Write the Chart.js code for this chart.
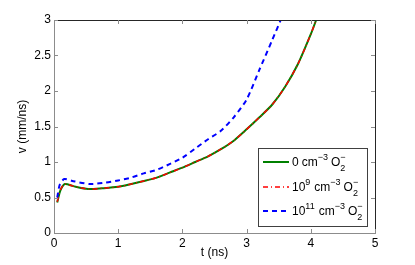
<!DOCTYPE html>
<html>
<head>
<meta charset="utf-8">
<script src="https://cdn.jsdelivr.net/npm/chart.js@4"></script>
<style>
  html, body { margin: 0; padding: 0; background: #fff; }
  #wrap { width: 415px; height: 265px; }
</style>
</head>
<body>
<div id="wrap"><canvas id="chart" width="415" height="265"></canvas></div>
<script>
// times (ns) and velocities (mm/ns)
const tZero = [0.05, 0.1, 0.17, 0.3, 0.53, 0.75, 1.0, 1.3, 1.6, 1.8, 2.0, 2.2, 2.4, 2.6, 2.8, 3.0, 3.2, 3.4, 3.6, 3.8, 4.0, 4.1];
const vZero = [0.43, 0.60, 0.69, 0.66, 0.62, 0.63, 0.65, 0.71, 0.78, 0.85, 0.92, 1.00, 1.08, 1.18, 1.30, 1.46, 1.63, 1.81, 2.06, 2.38, 2.80, 3.04];
const tNine = [0.05, 0.1, 0.17, 0.3, 0.53, 0.75, 1.0, 1.3, 1.6, 1.8, 2.0, 2.2, 2.4, 2.6, 2.8, 3.0, 3.2, 3.4, 3.6, 3.8, 4.0, 4.1];
const vNine = [0.44, 0.61, 0.69, 0.66, 0.62, 0.63, 0.65, 0.71, 0.78, 0.85, 0.92, 1.00, 1.08, 1.18, 1.30, 1.46, 1.63, 1.81, 2.06, 2.38, 2.80, 3.04];
const tEleven = [0.05, 0.09, 0.16, 0.3, 0.56, 0.8, 1.0, 1.2, 1.4, 1.6, 1.8, 2.0, 2.2, 2.4, 2.6, 2.8, 3.0, 3.2, 3.4, 3.55];
const vEleven = [0.50, 0.68, 0.76, 0.73, 0.69, 0.71, 0.74, 0.78, 0.84, 0.89, 0.97, 1.06, 1.19, 1.32, 1.44, 1.63, 1.88, 2.30, 2.72, 3.04];
const xTicks = [0, 1, 2, 3, 4, 5];
const yTicks = [0, 0.5, 1, 1.5, 2, 2.5, 3];
const legendLabels = [['0', 'cm', '−3', 'O', '2', '−'], ['10', '9', 'cm', '−3', 'O', '2', '−'], ['10', '11', 'cm', '−3', 'O', '2', '−']];

const FONT = 'Liberation Sans, Arial, Helvetica, sans-serif';

function pts(ts, vs) {
  return ts.map((t, i) => ({ x: t, y: vs[i] }));
}

// box around the plot with inward ticks, matlab style
const boxPlugin = {
  id: 'box',
  afterDatasetsDraw(chart) {
    const { ctx, chartArea: a, scales } = chart;
    ctx.save();
    ctx.lineWidth = 1;
    ctx.strokeStyle = '#262626';
    ctx.beginPath();
    ctx.moveTo(a.left, a.top + 0.5);
    ctx.lineTo(a.right + 0.5, a.top + 0.5);
    ctx.lineTo(a.right + 0.5, a.bottom);
    ctx.stroke();
    ctx.strokeStyle = '#8c8c8c';
    ctx.beginPath();
    xTicks.forEach(v => {
      const x = Math.round(scales.x.getPixelForValue(v)) + 0.5;
      ctx.moveTo(x, a.bottom); ctx.lineTo(x, a.bottom - 4);
      ctx.moveTo(x, a.top); ctx.lineTo(x, a.top + 4);
    });
    yTicks.forEach(v => {
      const y = Math.round(scales.y.getPixelForValue(v)) + 0.5;
      ctx.moveTo(a.left, y); ctx.lineTo(a.left + 4, y);
      ctx.moveTo(a.right, y); ctx.lineTo(a.right - 4, y);
    });
    ctx.stroke();
    ctx.restore();
  }
};

// legend with superscripts / subscripts
const legendPlugin = {
  id: 'mlegend',
  afterDraw(chart) {
    const { ctx } = chart;
    const bx = 258.5, by = 148.5, bw = 109, bh = 78;
    ctx.save();
    ctx.fillStyle = '#fff';
    ctx.fillRect(bx, by, bw, bh);
    ctx.strokeStyle = '#404040';
    ctx.lineWidth = 1;
    ctx.strokeRect(bx, by, bw, bh);
    const rows = [162, 187, 211];
    chart.data.datasets.forEach((ds, i) => {
      const y = rows[i];
      ctx.strokeStyle = ds.borderColor;
      ctx.lineWidth = ds.borderWidth;
      ctx.setLineDash(ds.borderDash || []);
      ctx.beginPath();
      ctx.moveTo(263, y);
      ctx.lineTo(289, y);
      ctx.stroke();
      ctx.setLineDash([]);
      ctx.fillStyle = '#000';
      ctx.textBaseline = 'alphabetic';
      const big = '12px ' + FONT, small = '9px ' + FONT;
      const base = y + 4;
      let x = 292;
      const put = (s, font, dy) => { ctx.font = font; ctx.fillText(s, x, base + dy); x += ctx.measureText(s).width; };
      const lab = legendLabels[i];
      let k = 0;
      put(lab[k++], big, 0);
      if (lab.length === 7) { put(lab[k++], small, -6); x += 1; }
      x += 3;
      put(lab[k++], big, 0);
      put(lab[k++], small, -6);
      x += 3;
      put(lab[k++], big, 0);
      const after = x;
      put(lab[k++], small, 5);
      x = after;
      put(lab[k++], small, -6);
    });
    ctx.restore();
  }
};

new Chart(document.getElementById('chart'), {
  type: 'line',
  data: {
    datasets: [
      { label: '0', data: pts(tZero, vZero), borderColor: '#008000', borderWidth: 2, pointRadius: 0, tension: 0.25, order: 3 },
      { label: '9', data: pts(tNine, vNine), borderColor: '#ff0000', borderWidth: 1.5, borderDash: [5, 3, 1, 3], pointRadius: 0, tension: 0.25, order: 2 },
      { label: '11', data: pts(tEleven, vEleven), borderColor: '#0000ff', borderWidth: 2, borderDash: [5, 4], pointRadius: 0, tension: 0.25, order: 1 }
    ]
  },
  options: {
    responsive: false,
    animation: false,
    layout: { padding: { top: 20, right: 40, left: 0, bottom: 0 } },
    plugins: { legend: { display: false }, tooltip: { enabled: false } },
    scales: {
      x: {
        type: 'linear', min: 0, max: 5,
        afterBuildTicks: s => { s.ticks = xTicks.map(v => ({ value: v })); },
        afterFit: s => { s.height = 32; },
        grid: { display: false, drawTicks: false },
        border: { display: true, color: '#8c8c8c', width: 1 },
        ticks: { color: '#000', font: { family: FONT, size: 12 }, padding: 3, maxRotation: 0, callback: v => String(v) },
        title: { display: true, text: 't (ns)', color: '#000', font: { family: FONT, size: 12 }, padding: { top: 0, bottom: 5 } }
      },
      y: {
        type: 'linear', min: 0, max: 3,
        afterBuildTicks: s => { s.ticks = yTicks.map(v => ({ value: v })); },
        afterFit: s => { s.width = 54; },
        grid: { display: false, drawTicks: false },
        border: { display: true, color: '#8c8c8c', width: 1 },
        ticks: { color: '#000', font: { family: FONT, size: 12 }, padding: 3, callback: v => String(v) },
        title: { display: true, text: 'v (mm/ns)', color: '#000', font: { family: FONT, size: 12 }, padding: { top: 15, bottom: 0 } }
      }
    }
  },
  plugins: [boxPlugin, legendPlugin]
});
</script>
</body>
</html>
